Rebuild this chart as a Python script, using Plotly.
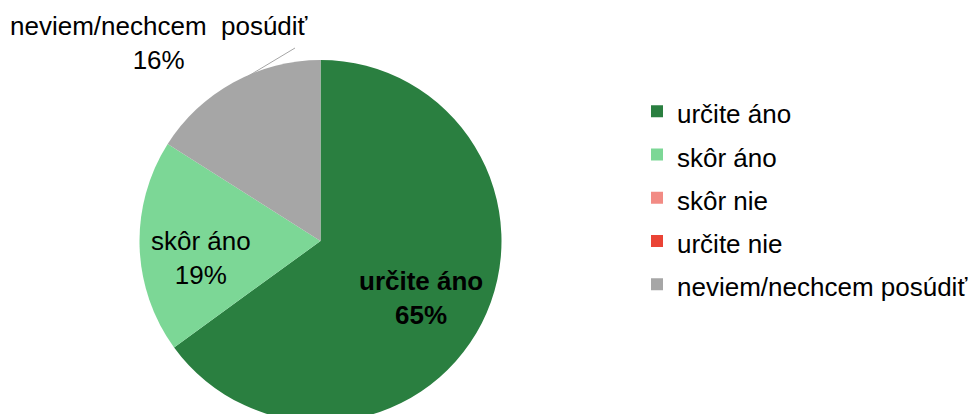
import plotly.graph_objects as go

# odpovede a podiely (%)
labels = ["určite áno", "skôr áno", "skôr nie", "určite nie", "neviem/nechcem posúdiť"]
values = [65, 19, 0, 0, 16]
colors = ["#2A7F40", "#7CD796", "#F28B84", "#EA4335", "#A6A6A6"]

W, H = 976, 414
OFF = 8               # okraj stranky (body margin)
TOP = 52              # horny okraj kolaca
RIGHT = 347           # miesto pre legendu
PW, PH = W - RIGHT, H - TOP
PIE_CX = 320.5        # stred kolaca na obrazovke (px)


def px(x, y):
    # pixely na obrazovke -> paper suradnice
    return (x - OFF) / PW, 1 - (y - OFF - TOP) / PH


total = sum(values)
pct = [round(v / total * 100) for v in values]

# legenda: vacsi riadkovy rozstup, text 26px
leg_labels = [f"<span style='font-size:26px'>{l}</span>" for l in labels]

fig = go.Figure(go.Pie(
    labels=leg_labels,
    values=values,
    sort=False,
    direction="clockwise",
    rotation=0,
    marker=dict(colors=colors, line=dict(width=0)),
    textinfo="none",
    domain=dict(x=[0, 2 * px(PIE_CX, 0)[0]], y=[0, 1]),
    hovertemplate="%{label}: %{percent:.0%}<extra></extra>",
))

# popisy dielov
label_pos = {0: (421, 298), 1: (201, 258), 4: (159, 43)}
for i, (lx, ly) in label_pos.items():
    name = labels[i] if i != 4 else labels[i].replace(" ", "\u00a0 ")
    txt = f"{name}<br>{pct[i]}%"
    if i == 0:
        txt = f"<b>{txt}</b>"
    ax, ay = px(lx, ly)
    fig.add_annotation(x=ax, y=ay, xref="paper", yref="paper", text=txt,
                       showarrow=False, xanchor="center", yanchor="middle",
                       font=dict(size=26, color="black"))

# vodiaca ciara k popisu mimo kolaca
x0, y0 = px(295, 48)
x1, y1 = px(245, 78)
fig.add_shape(type="line", xref="paper", yref="paper", x0=x0, y0=y0, x1=x1, y1=y1,
              line=dict(color="#A6A6A6", width=1))

fig.update_layout(
    width=W, height=H,
    margin=dict(l=0, r=RIGHT, t=TOP, b=0, autoexpand=False),
    paper_bgcolor="white",
    font=dict(family="Arial, Liberation Sans, sans-serif", color="black", size=26),
    showlegend=True,
    legend=dict(x=1, xanchor="left", y=px(0, 198)[1], yanchor="middle",
                font=dict(size=31), bgcolor="rgba(0,0,0,0)"),
)

fig.write_html("out.html")
